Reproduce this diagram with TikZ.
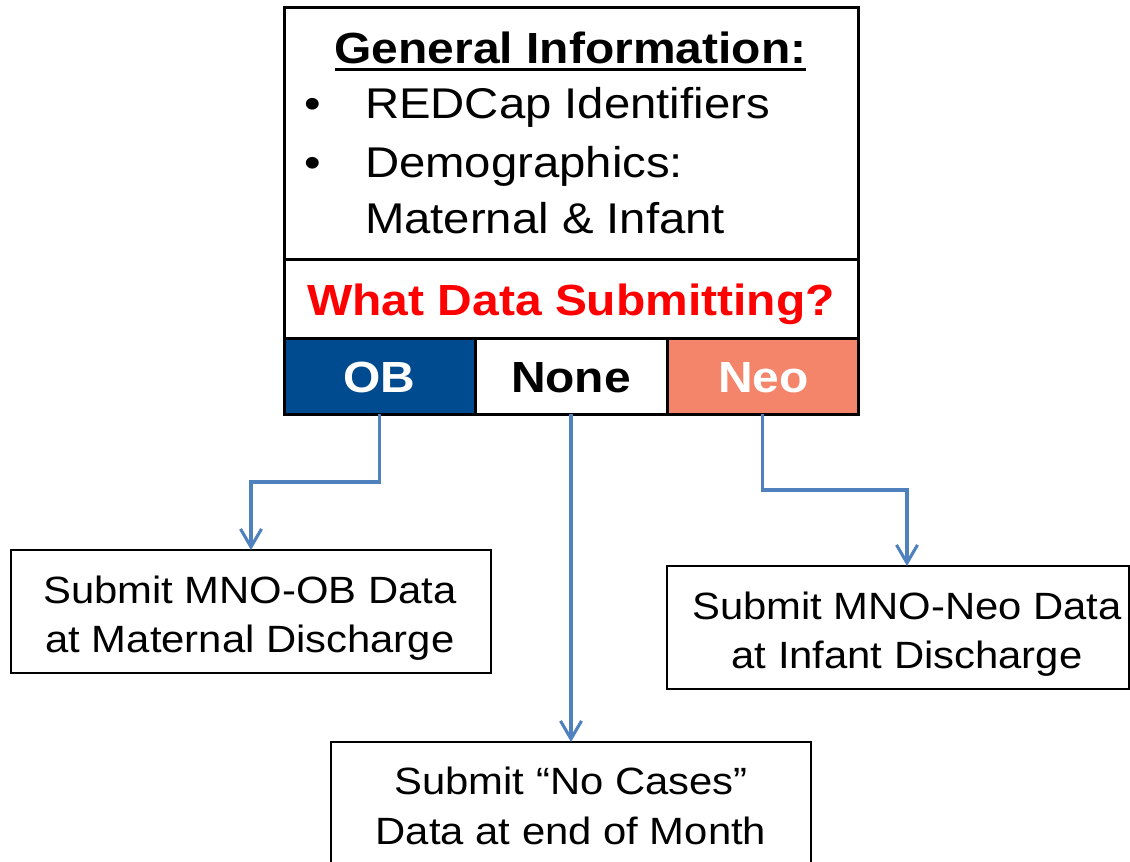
\documentclass[tikz,border=0pt]{standalone}
\usepackage{fontspec}
\setmainfont{Liberation Sans}[FakeStretch=1.1]
\usetikzlibrary{arrows.meta}
\definecolor{obblue}{RGB}{0,74,143}
\definecolor{neosalmon}{RGB}{244,133,106}
\definecolor{flowblue}{RGB}{79,129,189}
\definecolor{askred}{RGB}{255,0,0}
\newcommand{\bigtxt}{\fontsize{43}{50}\selectfont}
\newcommand{\boldtxt}{\fontsize{43.6}{50}\selectfont\bfseries}
\newcommand{\smalltxt}{\fontsize{38}{45}\selectfont}
\tikzset{
  cell/.style={draw=black, line width=3, rectangle, inner sep=0, outer sep=0},
  outbox/.style={draw=black, line width=2.2, rectangle, inner sep=0, outer sep=0, fill=white},
  txt/.style={inner sep=0, outer sep=0, anchor=base},
  txtl/.style={inner sep=0, outer sep=0, anchor=base west},
  flow/.style={draw=flowblue, line width=3.1, -{Straight Barb[length=18,width=21,line width=3.1]}}
}
\begin{document}
\begin{tikzpicture}[x=1pt,y=-1pt]
\useasboundingbox (0,0) rectangle (1130,862);
\fill[white] (0,0) rectangle (1130,862);

% main panel: general information, question, three choices
\node[cell, minimum width=574, minimum height=252] (gen) at (571,133) {};
\node[cell, minimum width=574, minimum height=79] (what) at (571,298.5) {};
\node[cell, fill=obblue, minimum width=191, minimum height=76] (ob) at (379.5,376) {};
\node[cell, fill=white, minimum width=192, minimum height=76] (none) at (571,376) {};
\node[cell, fill=neosalmon, minimum width=191, minimum height=76] (neo) at (762.5,376) {};

% text of the general information block
\node[txt, font=\boldtxt] (gi) at (570.5,63) {General Information:};
\draw[line width=3] ([yshift=-6pt]gi.base west) -- ([yshift=-6pt]gi.base east);
\node[txt, font=\bigtxt] (b1) at (313,118) {•};
\node[txtl, font=\bigtxt] (t1) at (365,118) {REDCap Identifiers};
\node[txt, font=\bigtxt] (b2) at (313,177) {•};
\node[txtl, font=\bigtxt] (t2) at (365,177) {Demographics:};
\node[txtl, font=\bigtxt] (t3) at (365,233) {Maternal \& Infant};

\node[txt, font=\boldtxt, text=askred] (q) at (571,315) {What Data Submitting?};
\node[txt, font=\boldtxt, text=white] (tob) at (379.5,392) {OB};
\node[txt, font=\boldtxt, text=black] (tnone) at (571,392) {None};
\node[txt, font=\boldtxt, text=white] (tneo) at (763.5,392) {Neo};

% outcome boxes
\node[outbox, minimum width=480, minimum height=123] (lbox) at (251,611.5) {};
\node[outbox, minimum width=462, minimum height=123] (rbox) at (898,627.5) {};
\node[outbox, minimum width=480, minimum height=150] (mbox) at (571,817) {};

\node[txt, font=\smalltxt] (l1) at (250,603) {Submit MNO-OB Data};
\node[txt, font=\smalltxt] (l2) at (250,652) {at Maternal Discharge};
\node[txt, font=\smalltxt] (r1) at (907,619) {Submit MNO-Neo Data};
\node[txt, font=\smalltxt] (r2) at (907,668) {at Infant Discharge};
\node[txt, font=\smalltxt] (m1) at (571,794) {Submit “No Cases”};
\node[txt, font=\smalltxt] (m2) at (571,844) {Data at end of Month};

% connectors
\coordinate (rin) at (907,566);
\draw[flow] (ob.south) -- ++(0,68) -| (lbox.north);
\draw[flow] (none.south) -- (mbox.north);
\draw[flow] (neo.south) -- ++(0,76) -| (rin);
\end{tikzpicture}
\end{document}
